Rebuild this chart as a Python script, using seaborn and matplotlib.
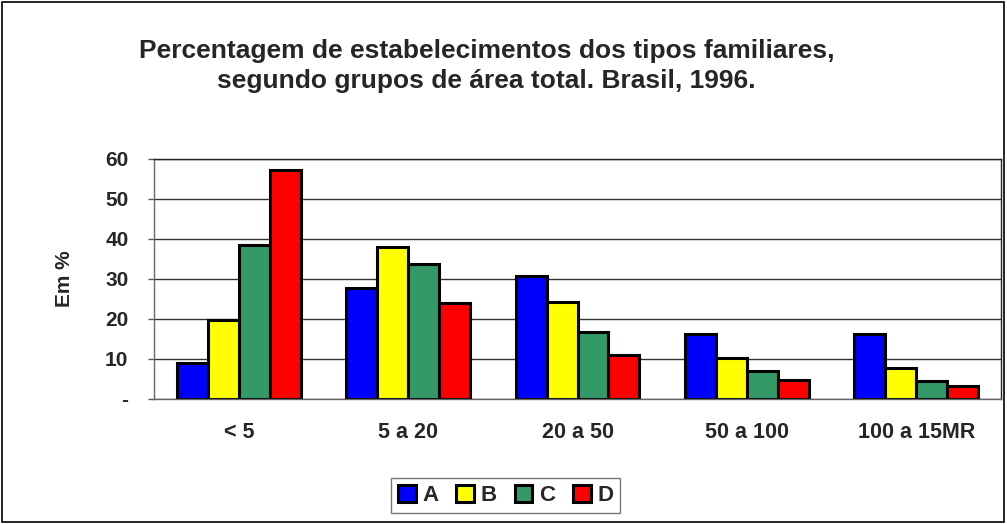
import numpy as np
import pandas as pd
import matplotlib
matplotlib.use('Agg')
import matplotlib.pyplot as plt
import seaborn as sns
from matplotlib.patches import Rectangle

# data
groups = ['< 5', '5 a 20', '20 a 50', '50 a 100', '100 a 15MR']
tipo_A = [9.0, 27.7, 30.7, 16.2, 16.2]
tipo_B = [19.6, 37.9, 24.1, 10.3, 7.7]
tipo_C = [38.5, 33.6, 16.6, 7.0, 4.5]
tipo_D = [57.2, 23.9, 10.9, 4.7, 3.3]
series_names = ['A', 'B', 'C', 'D']
colors = ['#0000FF', '#FFFF00', '#339966', '#FF0000']

df = pd.DataFrame({'grupo': groups, 'A': tipo_A, 'B': tipo_B, 'C': tipo_C, 'D': tipo_D})
long = df.melt(id_vars='grupo', var_name='tipo', value_name='pct')

sns.set_style('white')
plt.rcParams['font.family'] = ['Liberation Sans', 'DejaVu Sans']

fig = plt.figure(figsize=(10.07, 5.24), dpi=100)
ax = fig.add_axes([0.153, 0.239, 0.841, 0.458])

sns.barplot(data=long, x='grupo', y='pct', hue='tipo', order=groups,
            hue_order=series_names, palette=colors, width=0.73, gap=0,
            edgecolor='black', linewidth=2.2, saturation=1, ax=ax, legend=True)

ax.set_ylim(0, 60)
ax.set_xlim(-0.5, 4.5)
ax.set_yticks(np.arange(0, 61, 10))
ax.set_yticklabels(['-'] + [str(v) for v in range(10, 61, 10)], fontsize=15, fontweight='bold')
ax.set_xticks(range(len(groups)))
ax.set_xticklabels(groups, fontsize=15.5, fontweight='bold')
ax.set_xticks(np.arange(-0.5, 4.6, 1), minor=True)
ax.tick_params(axis='x', which='major', length=0, pad=17)
ax.tick_params(axis='x', which='minor', length=5, width=1, color='#555555', direction='out')
ax.tick_params(axis='y', length=4.5, width=1, color='#555555', direction='out', left=True, pad=14)
ax.yaxis.grid(True, color='#333333', linewidth=1)
ax.set_axisbelow(True)
for side in ['top', 'right', 'left', 'bottom']:
    ax.spines[side].set_visible(True)
    ax.spines[side].set_color('#222222')
    ax.spines[side].set_linewidth(1)
ax.spines['bottom'].set_color('#666666')
ax.spines['left'].set_color('#666666')

ax.set_xlabel('')
ax.set_ylabel('Em %', fontsize=15, fontweight='bold')
ax.yaxis.set_label_coords(-0.094, 0.5)

ax.legend(loc='center', bbox_to_anchor=(0.502, 0.054), bbox_transform=fig.transFigure,
          ncol=4, frameon=True, fancybox=False, edgecolor='#555555',
          prop={'size': 16, 'weight': 'bold'}, handlelength=0.8, handleheight=0.8,
          handletextpad=0.3, columnspacing=0.8, borderpad=0.3, borderaxespad=0)

fig.text(0.483, 0.874, 'Percentagem de estabelecimentos dos tipos familiares,\nsegundo grupos de área total. Brasil, 1996.',
         ha='center', va='center', fontsize=19, fontweight='bold', linespacing=1.3)

fig.patches.append(Rectangle((0.002, 0.003), 0.995, 0.993, transform=fig.transFigure,
                             fill=False, edgecolor='black', linewidth=1.2))

fig.savefig('out.png', dpi=100)
